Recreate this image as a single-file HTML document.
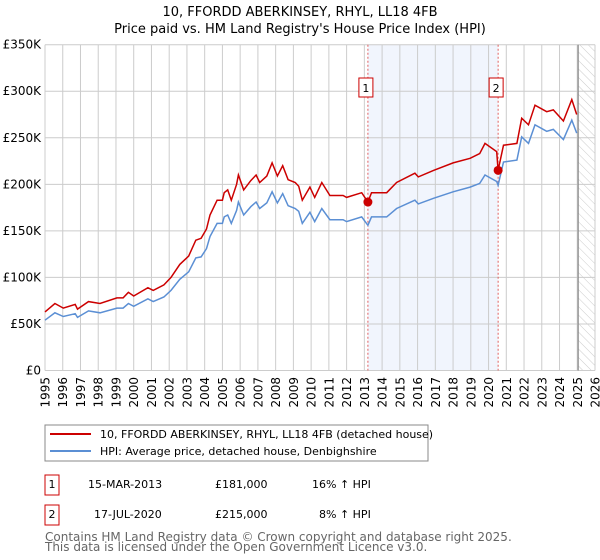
<!DOCTYPE html>
<html><head><meta charset="utf-8"><style>
body{margin:0;background:#fff;}
svg{display:block;font-family:"DejaVu Sans","Liberation Sans",sans-serif;}
</style></head><body>
<svg id="chart" width="600" height="560" viewBox="0 0 600 560" xmlns="http://www.w3.org/2000/svg">
<defs><pattern id="hatch" width="6" height="6" patternUnits="userSpaceOnUse" patternTransform="rotate(-45)"><line x1="0" y1="0" x2="0" y2="6" stroke="#ccc" stroke-width="1"/></pattern></defs>
<text x="300" y="16" text-anchor="middle" font-size="13">10, FFORDD ABERKINSEY, RHYL, LL18 4FB</text>
<text x="300" y="33" text-anchor="middle" font-size="13">Price paid vs. HM Land Registry's House Price Index (HPI)</text>
<g id="grid"></g>
<g id="marks"></g>
<g id="axes"></g>
<g>
<rect x="45" y="425" width="383" height="36" fill="#fff" stroke="#888"/>
<line x1="50" y1="434" x2="91" y2="434" stroke="#cc0000" stroke-width="2"/>
<text x="100" y="438" font-size="11">10, FFORDD ABERKINSEY, RHYL, LL18 4FB (detached house)</text>
<line x1="50" y1="451" x2="91" y2="451" stroke="#5b8fd4" stroke-width="2"/>
<text x="100" y="455" font-size="11">HPI: Average price, detached house, Denbighshire</text>
</g>
<g font-size="11">
<rect x="45" y="475" width="14" height="20" fill="#fff" stroke="#cc0000"/><text x="52" y="488" text-anchor="middle">1</text>
<text x="88" y="488">15-MAR-2013</text><text x="215" y="488">£181,000</text><text x="312" y="488">16% ↑ HPI</text>
<rect x="45" y="505" width="14" height="20" fill="#fff" stroke="#cc0000"/><text x="52" y="518" text-anchor="middle">2</text>
<text x="94" y="518">17-JUL-2020</text><text x="215" y="518">£215,000</text><text x="319" y="518">8% ↑ HPI</text>
</g>
<text x="45" y="541" font-size="12" fill="#666">Contains HM Land Registry data © Crown copyright and database right 2025.</text>
<text x="45" y="551" font-size="12" fill="#666">This data is licensed under the Open Government Licence v3.0.</text>
</svg>
<script>
const years=[1995.0,1995.56,1996.03,1996.7,1996.83,1997.45,1998.1,1999.05,1999.4,1999.7,2000.0,2000.8,2001.1,2001.7,2002.1,2002.6,2003.1,2003.5,2003.8,2004.1,2004.3,2004.7,2005.0,2005.1,2005.3,2005.5,2005.8,2005.9,2006.2,2006.6,2006.9,2007.1,2007.5,2007.8,2008.1,2008.4,2008.7,2009.1,2009.3,2009.5,2009.93,2010.2,2010.6,2011.06,2011.8,2012.0,2012.85,2013.2,2013.4,2014.26,2014.82,2015.85,2016.04,2016.9,2018.0,2018.96,2019.5,2019.8,2020.46,2020.54,2020.84,2021.6,2021.87,2022.25,2022.62,2023.28,2023.65,2024.22,2024.69,2024.97];
const hpi=[54,62,58,61,57,64,62,67,67,72,69,77,74,79,86,98,106,121,122,131,144,158,158,165,167,158,172,181,167,176,181,174,180,192,180,190,177,174,171,158,170,160,174,162,162,160,165,156,165,165,174,183,179,185,192,197,201,210,203,199,224,226,251,244,264,257,259,248,269,255];
const price=[63,72,67,71,66,74,72,78,78,84,80,89,86,92,100,114,123,140,142,152,167,183,183,191,194,183,200,210,194,204,210,202,209,223,209,220,205,202,198,183,197,186,202,188,188,186,191,181,191,191,202,212,208,215,223,228,233,244,235,215,242,244,271,264,285,278,280,268,291,275];
const saleYears=[2013.2,2020.54];
const salePrices=[181,215];
const saleLabels=["1","2"];
const yTicks=[0,50,100,150,200,250,300,350];
const yTickLabels=["£0","£50K","£100K","£150K","£200K","£250K","£300K","£350K"];
const xTicks=[1995,1996,1997,1998,1999,2000,2001,2002,2003,2004,2005,2006,2007,2008,2009,2010,2011,2012,2013,2014,2015,2016,2017,2018,2019,2020,2021,2022,2023,2024,2025,2026];
const NS="http://www.w3.org/2000/svg";
const L=45,R=595,T=44.7,B=370.5;
const x=y=>L+(y-1995)/(2026-1995)*(R-L);
const yv=v=>B-v/350*(B-T);
function mk(tag,attrs,parent){const e=document.createElementNS(NS,tag);for(const k in attrs)e.setAttribute(k,attrs[k]);parent.appendChild(e);return e;}
const grid=document.getElementById('grid'),marks=document.getElementById('marks'),axes=document.getElementById('axes');
let band=mk('rect',{x:x(saleYears[0]),y:T,width:x(saleYears[1])-x(saleYears[0]),height:B-T,fill:'#eef3fc',opacity:0.8},grid);


let hatch=mk('rect',{x:x(2025.05),y:T,width:R-x(2025.05),height:B-T,fill:'url(#hatch)'},grid);


yTicks.forEach((v,i)=>{
  let g=mk('line',{x1:L,x2:R,y1:yv(v),y2:yv(v),stroke:'#ccc','stroke-width':1},grid);
  
  
  let t=mk('text',{x:L-4,y:yv(v)+4,'text-anchor':'end','font-size':12},axes);t.textContent=yTickLabels[i];
  
  
});
xTicks.forEach(v=>{
  let g=mk('line',{x1:x(v),x2:x(v),y1:T,y2:B,stroke:'#ccc','stroke-width':1},grid);
  
  
  const tx=x(v)+4.5,ty=377;
  let t=mk('text',{x:tx,y:ty,'text-anchor':'end','font-size':12,transform:'rotate(-90 '+tx+' '+ty+')'},axes);t.textContent=v;
  
  
});
let endLine=mk('line',{x1:x(2025.05),x2:x(2025.05),y1:T,y2:B,stroke:'#888','stroke-width':1.2},grid);


saleYears.forEach((s,i)=>{
  let d=mk('line',{x1:x(s),x2:x(s),y1:T,y2:B,stroke:'#e06060','stroke-width':1,'stroke-dasharray':'2,2'},grid);
  
  
});
const pts=(arr)=>arr.map((v,i)=>x(years[i]).toFixed(1)+','+yv(v).toFixed(1)).join(' ');
let hl=mk('polyline',{points:pts(hpi),fill:'none',stroke:'#5b8fd4','stroke-width':1.5},marks);


let pl=mk('polyline',{points:pts(price),fill:'none',stroke:'#cc0000','stroke-width':1.5},marks);


saleYears.forEach((s,i)=>{
  let c=mk('circle',{cx:x(s),cy:yv(salePrices[i]),r:4.5,fill:'#cc0000'},marks);
  
  
  let b=mk('rect',{x:x(s)-7-2,y:78,width:14,height:19,fill:'#fff',stroke:'#cc0000'},marks);
  
  
  let t=mk('text',{x:x(s)-2,y:92,'text-anchor':'middle','font-size':11},marks);t.textContent=saleLabels[i];
  
  
});
</script>
</body></html>
